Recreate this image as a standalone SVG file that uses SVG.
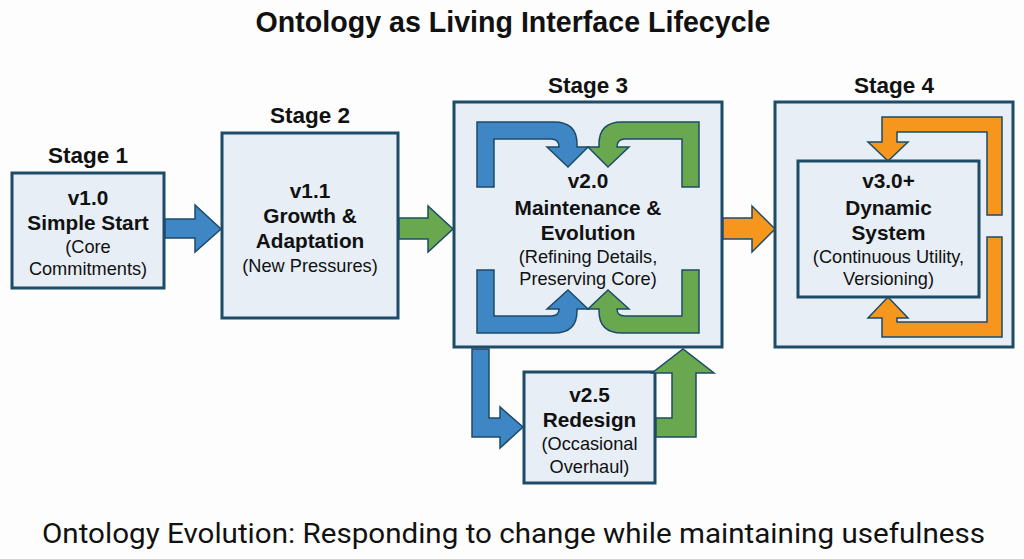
<svg xmlns="http://www.w3.org/2000/svg" width="1024" height="559" viewBox="0 0 1024 559">
<style>
.box{fill:#e7eef5;stroke:#1d4b68;stroke-width:3}
.t{font-family:"Liberation Sans",Arial,sans-serif;fill:#111;text-anchor:middle}
.b{font-weight:bold;font-size:20.8px}
.r{font-size:18.2px}
.st{font-weight:bold;font-size:22.5px}
.blue{fill:#3f87c4;stroke:#1d4b68;stroke-width:1.5;stroke-linejoin:miter}
.green{fill:#6aa84f;stroke:#1d4b68;stroke-width:1.5}
.orange{fill:#f7961c;stroke:#1d4b68;stroke-width:1.5}
</style>
<rect width="1024" height="559" fill="#fdfdfd"/>
<text class="t" x="513" y="32" style="font-weight:bold;font-size:28.6px">Ontology as Living Interface Lifecycle</text>

<g id="stage1">
<text class="t st" x="88" y="163">Stage 1</text>
<rect class="box" x="12" y="173" width="152" height="115"/>
<text class="t b" x="88" y="205">v1.0</text>
<text class="t b" x="88" y="230">Simple Start</text>
<text class="t r" x="88" y="253">(Core</text>
<text class="t r" x="88" y="275">Commitments)</text>
</g>

<g id="stage2">
<text class="t st" x="310" y="123">Stage 2</text>
<rect class="box" x="222" y="133" width="176" height="185"/>
<text class="t b" x="310" y="198">v1.1</text>
<text class="t b" x="310" y="223">Growth &amp;</text>
<text class="t b" x="310" y="248">Adaptation</text>
<text class="t r" x="310" y="272">(New Pressures)</text>
</g>

<g id="stage3">
<text class="t st" x="588" y="93">Stage 3</text>
<rect class="box" x="454" y="102" width="268" height="245"/>
<path class="blue" d="M477,187 V122 H554 Q577,122 577,144 V147 H588 L568,167 L547,147 H559 Q559,139 551,139 H494 V187 Z"/>
<path class="green" d="M699,187 V122 H622 Q599,122 599,144 V147 H588 L608,167 L629,147 H617 Q617,139 625,139 H682 V187 Z"/>
<path class="blue" d="M477,270 V333 H554 Q577,333 577,311 V309 H588 L568,290 L547,309 H559 Q559,316 551,316 H494 V270 Z"/>
<path class="green" d="M699,270 V333 H622 Q599,333 599,311 V309 H588 L608,290 L629,309 H617 Q617,316 625,316 H682 V270 Z"/>
<text class="t b" x="588" y="188">v2.0</text>
<text class="t b" x="588" y="215">Maintenance &amp;</text>
<text class="t b" x="588" y="240">Evolution</text>
<text class="t r" x="588" y="263">(Refining Details,</text>
<text class="t r" x="588" y="285">Preserving Core)</text>
</g>

<g id="redesign">
<rect class="box" x="524" y="372" width="131" height="111"/>
<text class="t b" x="589.5" y="402">v2.5</text>
<text class="t b" x="589.5" y="427">Redesign</text>
<text class="t r" x="589.5" y="450">(Occasional</text>
<text class="t r" x="589.5" y="473">Overhaul)</text>
</g>

<g id="stage4">
<text class="t st" x="894" y="93">Stage 4</text>
<rect class="box" x="775" y="102" width="238" height="245"/>
<path class="orange" d="M1002,215 V117 H882 V142 H868 L888,161 L908,142 H897 V132 H987 V215 Z"/>
<path class="orange" d="M1002,237 V337 H882 V318 H868 L888,297 L908,318 H897 V322 H987 V237 Z"/>
<rect class="box" x="798" y="161" width="181" height="136"/>
<text class="t b" x="888.5" y="188">v3.0+</text>
<text class="t b" x="888.5" y="215">Dynamic</text>
<text class="t b" x="888.5" y="240">System</text>
<text class="t r" x="888.5" y="263">(Continuous Utility,</text>
<text class="t r" x="888.5" y="285">Versioning)</text>
</g>

<g id="connectors">
<path class="blue" d="M165,219 H195 V205 L221,229 L195,252 V238 H165 Z"/>
<path class="green" d="M399,218 H428 V206 L453,229 L428,252 V239 H399 Z"/>
<path class="orange" d="M723,218 H752 V206 L775,229 L752,252 V239 H723 Z"/>
<path class="blue" d="M472,349 V437 H500 V448 L523,427 L500,407 V418 H489 V349 Z"/>
<path class="green" d="M656,418 H672 V373 H652 L683,349 L714,373 H696 V437 H656 Z"/>
</g>

<text x="42" y="543" textLength="943" lengthAdjust="spacingAndGlyphs" style="font-family:Roboto,'Liberation Sans',sans-serif;font-size:28px;fill:#111">Ontology Evolution: Responding to change while maintaining usefulness</text>
</svg>
